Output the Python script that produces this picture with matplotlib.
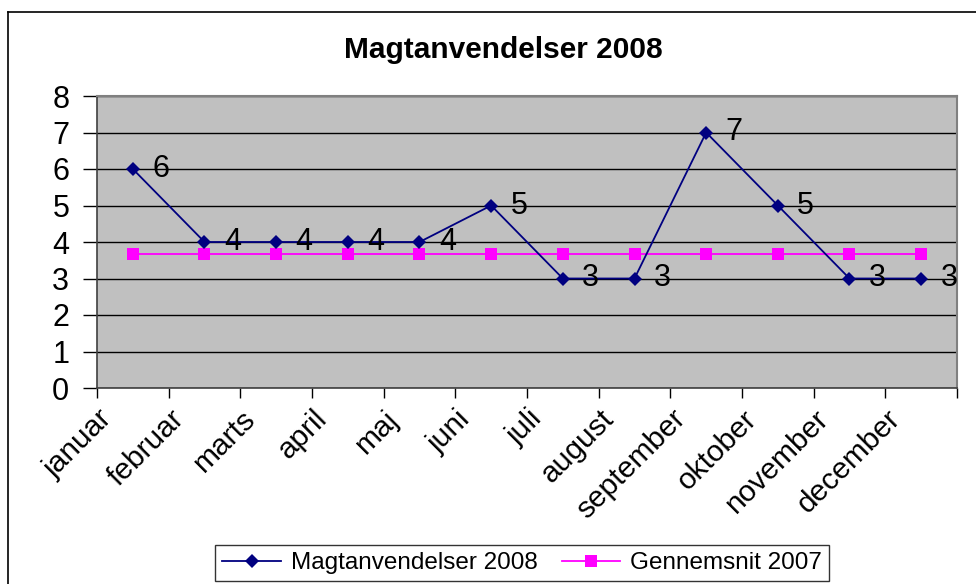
import matplotlib
matplotlib.use("Agg")
import matplotlib.pyplot as plt
import matplotlib.transforms as mtransforms

# data
months = ["januar", "februar", "marts", "april", "maj", "juni", "juli",
          "august", "september", "oktober", "november", "december"]
magt_2008 = [6, 4, 4, 4, 4, 5, 3, 3, 7, 5, 3, 3]
snit_2007 = [3.67] * 12

plt.rcParams['font.family'] = ['Liberation Sans', 'DejaVu Sans']

fig = plt.figure(figsize=(9.76, 5.84), dpi=100)

# outer chart border (open on right/bottom, as in the cropped screenshot)
W, H = 976, 584
fig.add_artist(plt.Line2D([8 / W, 8 / W], [0, 1 - 12 / H], color='k', lw=1.2,
                          transform=fig.transFigure))
fig.add_artist(plt.Line2D([8 / W, 1], [1 - 12 / H, 1 - 12 / H], color='k', lw=1.2,
                          transform=fig.transFigure))

ax = fig.add_axes([97 / W, 1 - 388 / H, (957 - 97) / W, (388 - 96) / H])
ax.set_facecolor('#C0C0C0')

x = list(range(len(months)))
ax.plot(x, snit_2007, color='#FF00FF', lw=1.3, marker='s', markersize=9,
        markeredgewidth=0, label='Gennemsnit 2007', zorder=3)
ax.plot(x, magt_2008, color='#000080', lw=1.3, marker='D', markersize=7,
        markeredgewidth=0, label='Magtanvendelser 2008', zorder=4)

for xi, v in zip(x, magt_2008):
    ax.annotate(str(v), (xi, v), xytext=(14, 0), textcoords='offset points',
                ha='left', va='center', fontsize=22, zorder=5)

ax.set_xlim(-0.5, 11.5)
ax.set_ylim(0, 8)
ax.set_yticks(range(0, 9))
ax.yaxis.grid(True, color='black', lw=1)
ax.set_axisbelow(True)

# tick marks at category boundaries, labels at category centres
ax.set_xticks([i - 0.5 for i in range(13)])
ax.set_xticklabels([])
ax.set_xticks(x, minor=True)
ax.set_xticklabels(months, minor=True, rotation=45, ha='right', va='top',
                   rotation_mode='anchor', fontsize=21.5)
ax.tick_params(axis='x', which='minor', length=0, pad=12)
ax.tick_params(axis='x', which='major', length=7, width=1, direction='out')
ax.tick_params(axis='y', length=10, width=1, labelsize=22, pad=10)

shift = mtransforms.ScaledTranslation(-35 / 100, 0, fig.dpi_scale_trans)
for lab in ax.get_xticklabels(minor=True):
    lab.set_transform(lab.get_transform() + shift)

for side in ['top', 'right']:
    ax.spines[side].set_color('#808080')
    ax.spines[side].set_linewidth(1.5)
for side in ['left', 'bottom']:
    ax.spines[side].set_color('#404040')
    ax.spines[side].set_linewidth(1.2)

fig.text(503 / W, 1 - 50 / H, "Magtanvendelser 2008", ha='center', va='center',
         fontsize=21.5, fontweight='bold')

handles, labels = ax.get_legend_handles_labels()
leg = fig.legend(handles[::-1], labels[::-1], loc='center',
                 bbox_to_anchor=(522 / W, 1 - 563 / H), ncol=2, fontsize=17.5,
                 frameon=True, fancybox=False, edgecolor='black',
                 handlelength=2.4, handletextpad=0.4, columnspacing=1.0,
                 borderpad=0.3)
leg.get_frame().set_linewidth(1.0)

fig.savefig("out.png", dpi=100)
